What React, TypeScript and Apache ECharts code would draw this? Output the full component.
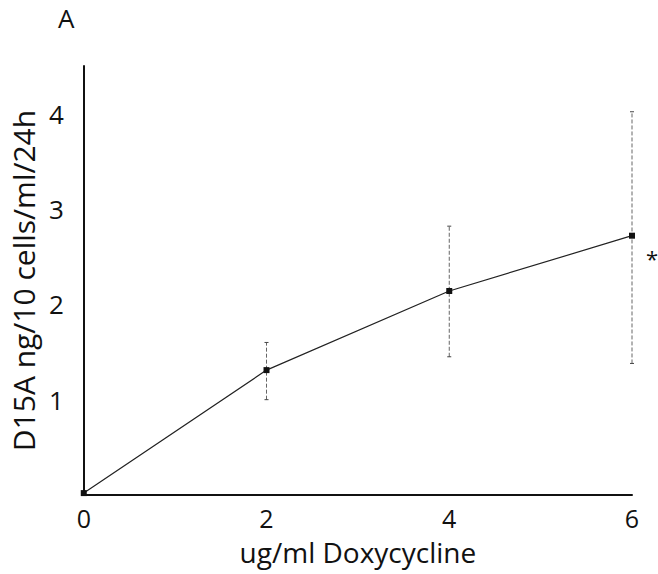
import React, { useEffect, useRef } from "react";
import * as echarts from "echarts";

const doses = [0, 2, 4, 6];
const means = [0.02, 1.31, 2.14, 2.72];
const lows = [0.02, 1.0, 1.45, 1.38];
const highs = [0.02, 1.6, 2.82, 4.02];
const yTicks = [1, 2, 3, 4];
const panelLabel = "A";
const xTitle = "ug/ml Doxycycline";
const yTitle = "D15A ng/10 cells/ml/24h";
const starNote = "*";

const FONT = "Open Sans";

export default function App() {
  const ref = useRef<HTMLDivElement>(null);
  useEffect(() => {
    if (!ref.current) return;
    const chart = echarts.init(ref.current, undefined, { renderer: "svg" });
    const lineData = doses.map((d, i) => ({
      value: [d, means[i]],
      label:
        i === doses.length - 1
          ? {
              show: true,
              formatter: starNote,
              position: "right",
              offset: [6, 22],
              fontSize: 22,
              color: "#111",
              fontFamily: FONT,
            }
          : { show: false },
    }));
    chart.setOption({
      animation: false,
      backgroundColor: "#fff",
      grid: { left: 75, right: 26, top: 66, bottom: 79 },
      xAxis: {
        type: "value",
        min: 0,
        max: 6,
        interval: 2,
        name: xTitle,
        nameLocation: "middle",
        nameGap: 43,
        nameTextStyle: { fontSize: 28, color: "#111", fontFamily: FONT },
        axisLine: { show: true, lineStyle: { color: "#111", width: 2 } },
        axisTick: { show: false },
        splitLine: { show: false },
        axisLabel: { fontSize: 25, color: "#111", margin: 10, fontFamily: FONT },
      },
      yAxis: {
        type: "value",
        min: 0,
        max: 4.5,
        interval: 1,
        name: yTitle,
        nameLocation: "middle",
        nameGap: 40,
        nameTextStyle: { fontSize: 30, color: "#111", fontFamily: FONT },
        axisLine: { show: true, lineStyle: { color: "#111", width: 2 } },
        axisTick: { show: false },
        splitLine: { show: false },
        axisLabel: {
          fontSize: 26,
          color: "#111",
          margin: 20,
          fontFamily: FONT,
          showMaxLabel: false,
          formatter: (v: number) => (yTicks.includes(v) ? String(v) : ""),
        },
      },
      graphic: [
        {
          type: "text",
          x: 58,
          y: 18,
          style: {
            text: panelLabel,
            fontSize: 26,
            fill: "#111",
            fontFamily: FONT,
            verticalAlign: "middle",
            textVerticalAlign: "middle",
          },
        },
      ],
      series: [
        {
          type: "custom",
          z: 1,
          data: doses.map((d, i) => [d, lows[i], highs[i]]),
          renderItem: (params: any, api: any) => {
            const x = api.value(0);
            const lo = api.coord([x, api.value(1)]);
            const hi = api.coord([x, api.value(2)]);
            if (Math.abs(lo[1] - hi[1]) < 1) return { type: "group", children: [] };
            const style = { stroke: "#666", lineWidth: 1, lineDash: [4, 2] };
            const cap = 2;
            return {
              type: "group",
              children: [
                { type: "line", shape: { x1: lo[0], y1: lo[1], x2: hi[0], y2: hi[1] }, style },
                { type: "line", shape: { x1: lo[0] - cap, y1: lo[1], x2: lo[0] + cap, y2: lo[1] }, style: { stroke: "#444", lineWidth: 1 } },
                { type: "line", shape: { x1: hi[0] - cap, y1: hi[1], x2: hi[0] + cap, y2: hi[1] }, style: { stroke: "#444", lineWidth: 1 } },
              ],
            };
          },
        },
        {
          type: "line",
          z: 3,
          data: lineData,
          symbol: "rect",
          symbolSize: 6,
          itemStyle: { color: "#111" },
          lineStyle: { color: "#222", width: 1.2 },
        },
      ],
    });
    return () => chart.dispose();
  }, []);
  return (
    <div
      ref={ref}
      style={{ position: "absolute", left: 0, top: 0, width: 658, height: 574 }}
    />
  );
}
